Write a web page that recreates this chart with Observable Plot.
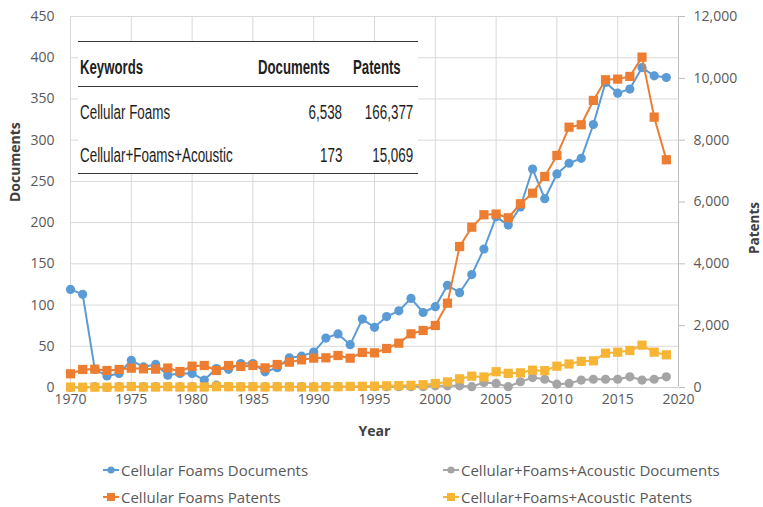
<!DOCTYPE html>
<html><head><meta charset="utf-8">
<script src="https://cdn.jsdelivr.net/npm/d3@7"></script>
<script src="https://cdn.jsdelivr.net/npm/@observablehq/plot@0.6"></script>
<style>
body{margin:0;background:#fff;}
#wrap{position:relative;width:763px;height:507px;font-family:"Open Sans",sans-serif;overflow:hidden;}
#wrap > svg{position:absolute;left:0;top:0;}
.tbl{position:absolute;left:78px;top:41px;width:340px;height:132px;background:#fff;}
.hl{position:absolute;left:0;width:340px;height:0;border-top:1.6px solid #3a3a3a;}
.cell{position:absolute;font-family:"Liberation Sans",Arial,sans-serif;color:#1e1e1e;white-space:nowrap;line-height:24px;height:24px;}
.leg{position:absolute;display:flex;align-items:center;font-size:15px;color:#595959;white-space:nowrap;}
.leg svg{display:block;margin-right:2px;}
</style></head><body><div id="wrap"></div>
<script>
// ---- data ----
const years = [1970,1971,1972,1973,1974,1975,1976,1977,1978,1979,
               1980,1981,1982,1983,1984,1985,1986,1987,1988,1989,
               1990,1991,1992,1993,1994,1995,1996,1997,1998,1999,
               2000,2001,2002,2003,2004,2005,2006,2007,2008,2009,
               2010,2011,2012,2013,2014,2015,2016,2017,2018,2019];
// Cellular Foams Documents (left axis)
const cfDocs = [119,113,22,14,17,33,25,28,15,17,
                17,9,23,22,29,29,19,24,36,38,
                43,60,65,52,83,73,86,93,108,91,
                98,124,115,137,168,207,197,219,265,229,
                259,272,278,319,370,357,362,388,378,376];
// Cellular+Foams+Acoustic Documents (left axis)
const cfaDocs = [0,0,1,0,1,1,1,1,1,1,
                 1,1,3,1,1,1,1,1,1,1,
                 1,1,1,1,1,1,1,1,1,1,
                 2,2,2,1,6,5,1,7,12,10,
                 4,5,9,10,10,10,13,9,10,13];
// Cellular Foams Patents (right axis)
const cfPatents = [443,582,593,550,582,625,604,593,630,518,
                   690,712,550,712,680,712,636,744,820,895,
                   950,960,1035,948,1132,1121,1262,1434,1736,1844,
                   2006,2728,4561,5186,5587,5610,5490,5943,6286,6826,
                   7505,8421,8498,9285,9954,9975,10061,10686,8744,7366];
// Cellular+Foams+Acoustic Patents (right axis)
const cfaPatents = [15,10,10,10,15,30,15,15,25,15,
                    15,15,25,25,20,25,15,25,20,15,
                    15,25,25,35,40,45,55,60,70,90,
                    130,180,280,367,340,510,458,474,561,545,
                    690,760,846,863,1110,1143,1197,1370,1143,1057];

const yearTicks = [1970,1975,1980,1985,1990,1995,2000,2005,2010,2015,2020];
const docTicks = [0,50,100,150,200,250,300,350,400,450];
const patentTicks = [0,2000,4000,6000,8000,10000,12000];

const seriesNames = ["Cellular Foams Documents","Cellular+Foams+Acoustic Documents","Cellular Foams Patents","Cellular+Foams+Acoustic Patents"];
const seriesColors = ["#5b9bd5","#a5a5a5","#ed7d31","#f6b535"];
const seriesSymbols = ["circle","circle","square","square"];

const tableHeader = ["Keywords","Documents","Patents"];
const tableKeywords = ["Cellular Foams","Cellular+Foams+Acoustic"];
const tableDocs = ["6,538","173"];
const tablePatents = ["166,377","15,069"];

// ---- chart ----
const k = docTicks[docTicks.length-1] / patentTicks[patentTicks.length-1];
const rows = (vals, s) => years.map((yr,i)=>({year:yr, v: vals[i]*s}));
const series = [rows(cfDocs,1), rows(cfaDocs,1), rows(cfPatents,k), rows(cfaPatents,k)];

const seriesMarks = [];
series.forEach((d,i)=>{
  seriesMarks.push(Plot.line(d,{x:"year",y:"v",stroke:seriesColors[i],strokeWidth:2}));
  seriesMarks.push(Plot.dot(d,{x:"year",y:"v",fill:seriesColors[i],stroke:"none",
     symbol:seriesSymbols[i], r: seriesSymbols[i]==="square"?5.2:4.6}));
});

const plot = Plot.plot({
  width:763, height:448,
  marginLeft:70, marginRight:85, marginTop:16, marginBottom:61,
  style:{fontFamily:"Open Sans", fontSize:"14px", color:"#595959", background:"#fff"},
  x:{domain:[1970,2020]},
  y:{domain:[0,450]},
  marks:[
    Plot.gridY(docTicks,{stroke:"#d9d9d9", strokeOpacity:1}),
    Plot.gridX(yearTicks,{stroke:"#d9d9d9", strokeOpacity:1}),
    Plot.ruleY([0],{stroke:"#cfcfcf"}),
    Plot.ruleX([2020],{stroke:"#bfbfbf"}),
    Plot.axisY(docTicks,{anchor:"left", tickSize:0, tickPadding:16, label:null}),
    Plot.axisY(patentTicks.map(v=>v*k),{anchor:"right", tickSize:6, tickPadding:9, stroke:"#bfbfbf", fill:"#595959", label:null,
       tickFormat:d=>d3.format(",")(Math.round(d/k))}),
    Plot.axisX(yearTicks,{tickSize:0, tickPadding:7, tickFormat:"d", label:null}),
    Plot.text(["Documents"],{text:d=>d, frameAnchor:"left", dx:-55, rotate:-90, fontWeight:"bold", fontSize:14, fill:"#404040"}),
    Plot.text(["Patents"],{text:d=>d, frameAnchor:"right", dx:76, rotate:-90, fontWeight:"bold", fontSize:13.5, fill:"#404040"}),
    Plot.text(["Year"],{text:d=>d, frameAnchor:"bottom", dy:48, fontWeight:"bold", fontSize:14, fill:"#404040"}),
    ...seriesMarks
  ]
});
const wrap = document.getElementById("wrap");
wrap.appendChild(plot);

// ---- table overlay ----
const tbl = document.createElement("div");
tbl.className = "tbl";
wrap.appendChild(tbl);
[0,45,131.5].forEach(t=>{const l=document.createElement("div");l.className="hl";l.style.top=t+"px";tbl.appendChild(l);});
function cell(txt, top, opts){
  const c=document.createElement("div");c.className="cell";c.textContent=txt;c.style.top=(top-12)+"px";
  if(opts.left!==undefined){c.style.left=opts.left+"px";c.style.transformOrigin="left center";}
  if(opts.right!==undefined){c.style.right=opts.right+"px";c.style.transformOrigin="right center";}
  c.style.fontSize=opts.size+"px";
  c.style.transform="scaleX("+opts.sx+")";
  if(opts.bold)c.style.fontWeight="bold";
  tbl.appendChild(c);
}
const headerLefts=[2,180,275];
tableHeader.forEach((h,i)=>cell(h,26,{left:headerLefts[i],size:20,bold:true,sx:0.66}));
const rowCenters=[71,114];
tableKeywords.forEach((kw,i)=>{
  cell(kw,rowCenters[i],{left:2,size:20,sx:0.67});
  cell(tableDocs[i],rowCenters[i],{right:76,size:20,sx:0.67});
  cell(tablePatents[i],rowCenters[i],{right:5,size:20,sx:0.67});
});

// ---- legend ----
const legPos=[[103,470],[443,470],[103,497],[443,497]];
seriesNames.forEach((n,i)=>{
  const d=document.createElement("div");d.className="leg";
  d.style.left=legPos[i][0]+"px";d.style.top=(legPos[i][1]-11)+"px";d.style.height="22px";
  const c=seriesColors[i];
  const m = seriesSymbols[i]==="circle"
    ? `<circle cx="8" cy="5" r="3.6" fill="${c}"/>`
    : `<rect x="4" y="1" width="8" height="8" fill="${c}"/>`;
  d.innerHTML=`<svg width="16" height="10"><line x1="0" x2="16" y1="5" y2="5" stroke="${c}" stroke-width="2"/>${m}</svg><span>${n}</span>`;
  wrap.appendChild(d);
});
</script>
</body></html>
